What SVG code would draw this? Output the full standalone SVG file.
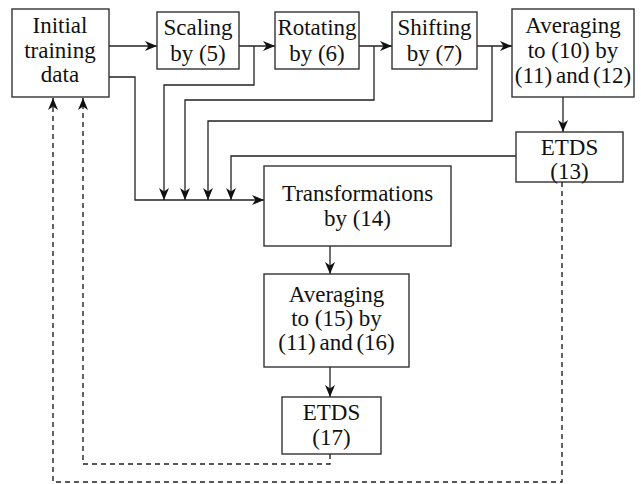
<svg xmlns="http://www.w3.org/2000/svg" width="641" height="484" viewBox="0 0 641 484">
<style>
.box{fill:#fff;stroke:#333;stroke-width:1.4}
.t{font-family:"Liberation Serif","Times New Roman",serif;font-size:23px;fill:#111;text-anchor:middle}
.n{word-spacing:-2px}
.c{fill:none;stroke:#222;stroke-width:1.3}
.d{fill:none;stroke:#222;stroke-width:1.4;stroke-dasharray:5 4}
</style>
<defs>
<marker id="ah" markerUnits="userSpaceOnUse" markerWidth="14" markerHeight="12" refX="12" refY="5" orient="auto">
<path d="M0,0 L12,5 L0,10 L3.5,5 z" fill="#111"/>
</marker>
</defs>
<rect width="641" height="484" fill="#fff"/>
<g id="connectors">
<path class="c" d="M109,46 H157" marker-end="url(#ah)"/>
<path class="c" d="M239,46 H275" marker-end="url(#ah)"/>
<path class="c" d="M359,46 H392" marker-end="url(#ah)"/>
<path class="c" d="M477,46 H512" marker-end="url(#ah)"/>
<path class="c" d="M563,97 V132" marker-end="url(#ah)"/>
<path class="c" d="M109,77 H135 V200 H264" marker-end="url(#ah)"/>
<path class="c" d="M254,46 V85 H164 V200" marker-end="url(#ah)"/>
<path class="c" d="M374,46 V100 H185 V200" marker-end="url(#ah)"/>
<path class="c" d="M492,46 V121 H208 V200" marker-end="url(#ah)"/>
<path class="c" d="M516,156 H231 V200" marker-end="url(#ah)"/>
<path class="c" d="M330,246 V274" marker-end="url(#ah)"/>
<path class="c" d="M330,367 V397" marker-end="url(#ah)"/>
<path class="d" d="M330,454 V464 H83 V98" marker-end="url(#ah)"/>
<path class="d" d="M562,182 V482 H53 V98" marker-end="url(#ah)"/>
</g>
<g id="initial">
<rect class="box" x="12" y="9" width="97" height="88"/>
<text class="t" x="60" y="33">Initial</text>
<text class="t" x="60" y="57.5">training</text>
<text class="t" x="60" y="82">data</text>
</g>
<g id="scaling">
<rect class="box" x="157" y="12" width="82" height="57"/>
<text class="t" x="198" y="35">Scaling</text>
<text class="t" x="198" y="61">by (5)</text>
</g>
<g id="rotating">
<rect class="box" x="275" y="12" width="84" height="57"/>
<text class="t" x="317" y="35">Rotating</text>
<text class="t" x="317" y="61">by (6)</text>
</g>
<g id="shifting">
<rect class="box" x="392" y="12" width="85" height="57"/>
<text class="t" x="434.5" y="35">Shifting</text>
<text class="t" x="434.5" y="61">by (7)</text>
</g>
<g id="averaging10">
<rect class="box" x="512" y="9" width="122" height="88"/>
<text class="t" x="573" y="33">Averaging</text>
<text class="t" x="573" y="58">to (10) by</text>
<text class="t n" x="573" y="83">(11) and (12)</text>
</g>
<g id="etds13">
<rect class="box" x="516" y="132" width="107" height="50"/>
<text class="t" x="569.5" y="155">ETDS</text>
<text class="t" x="569.5" y="179">(13)</text>
</g>
<g id="transformations">
<rect class="box" x="264" y="166" width="187" height="80"/>
<text class="t" x="357.5" y="201">Transformations</text>
<text class="t" x="357.5" y="226">by (14)</text>
</g>
<g id="averaging15">
<rect class="box" x="264" y="274" width="145" height="93"/>
<text class="t" x="336.5" y="302">Averaging</text>
<text class="t" x="336.5" y="326">to (15) by</text>
<text class="t n" x="336.5" y="350">(11) and (16)</text>
</g>
<g id="etds17">
<rect class="box" x="282" y="397" width="99" height="57"/>
<text class="t" x="331.5" y="420">ETDS</text>
<text class="t" x="331.5" y="445">(17)</text>
</g>
</svg>
